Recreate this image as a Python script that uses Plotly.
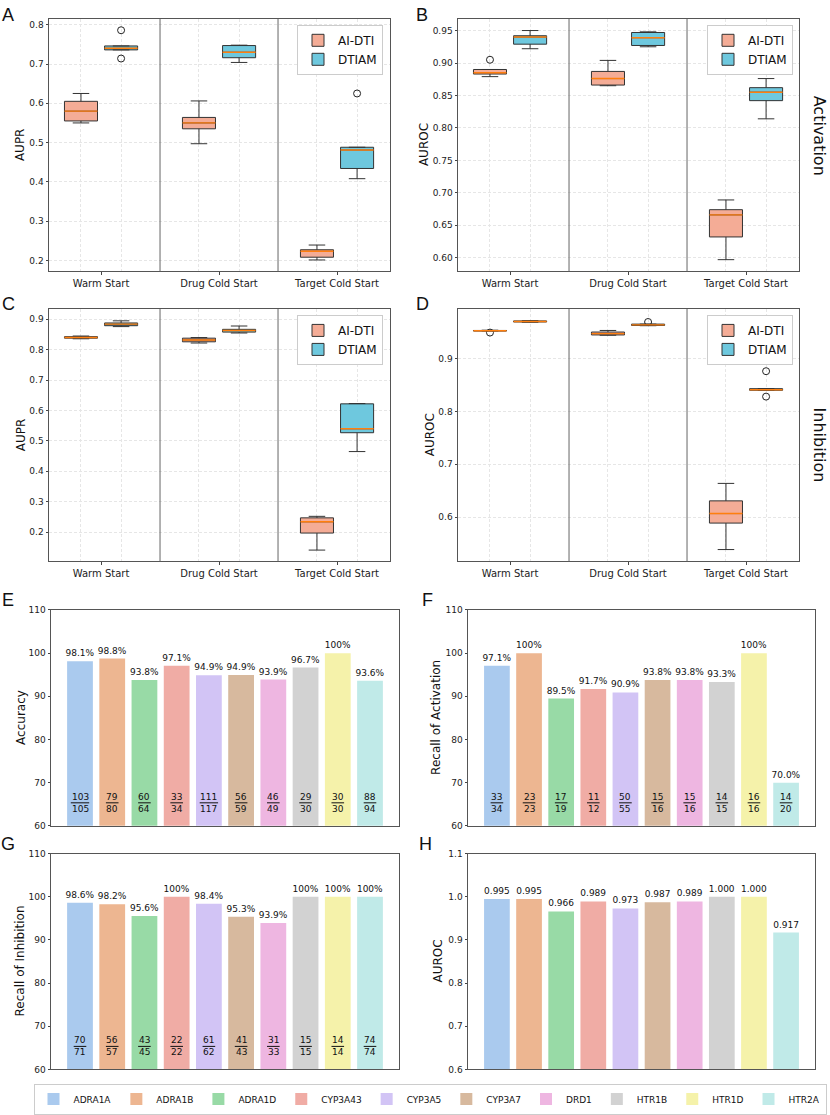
import numpy as np
import plotly.graph_objects as go

W, H = 830, 1115

# ---------------- data ----------------
scenarios = ["Warm Start", "Drug Cold Start", "Target Cold Start"]
methods = ["AI-DTI", "DTIAM"]

# five-fold results per scenario (A: activation AUPR, B: activation AUROC, C: inhibition AUPR, D: inhibition AUROC)
aupr_act_aidti = [[0.550, 0.555, 0.580, 0.605, 0.625], [0.497, 0.535, 0.550, 0.564, 0.606], [0.201, 0.208, 0.223, 0.227, 0.239]]
aupr_act_dtiam = [[0.714, 0.736, 0.740, 0.746, 0.786], [0.704, 0.716, 0.730, 0.747, 0.748], [0.408, 0.434, 0.481, 0.488, 0.625]]
auroc_act_aidti = [[0.879, 0.883, 0.885, 0.890, 0.905], [0.865, 0.866, 0.876, 0.887, 0.904], [0.597, 0.632, 0.666, 0.674, 0.689]]
auroc_act_dtiam = [[0.922, 0.929, 0.940, 0.942, 0.950], [0.925, 0.927, 0.939, 0.947, 0.948], [0.814, 0.842, 0.855, 0.862, 0.876]]
aupr_inh_aidti = [[0.836, 0.838, 0.840, 0.843, 0.845], [0.822, 0.826, 0.832, 0.838, 0.840], [0.141, 0.197, 0.234, 0.247, 0.252]]
aupr_inh_dtiam = [[0.876, 0.879, 0.884, 0.888, 0.895], [0.855, 0.858, 0.863, 0.867, 0.878], [0.465, 0.527, 0.540, 0.622, 0.623]]
auroc_inh_aidti = [[0.949, 0.952, 0.9525, 0.953, 0.9535], [0.944, 0.9445, 0.947, 0.950, 0.953], [0.539, 0.589, 0.607, 0.631, 0.664]]
auroc_inh_dtiam = [[0.9685, 0.969, 0.970, 0.971, 0.9715], [0.962, 0.9625, 0.9635, 0.965, 0.969], [0.828, 0.840, 0.841, 0.843, 0.876]]

targets = ["ADRA1A", "ADRA1B", "ADRA1D", "CYP3A43", "CYP3A5", "CYP3A7", "DRD1", "HTR1B", "HTR1D", "HTR2A"]
acc_num = [103, 79, 60, 33, 111, 56, 46, 29, 30, 88]
acc_den = [105, 80, 64, 34, 117, 59, 49, 30, 30, 94]
act_num = [33, 23, 17, 11, 50, 15, 15, 14, 16, 14]
act_den = [34, 23, 19, 12, 55, 16, 16, 15, 16, 20]
inh_num = [70, 56, 43, 22, 61, 41, 31, 15, 14, 74]
inh_den = [71, 57, 45, 22, 62, 43, 33, 15, 14, 74]
auroc_targets = [0.995, 0.995, 0.966, 0.989, 0.973, 0.987, 0.989, 1.000, 1.000, 0.917]

# ---------------- styles ----------------
box_fill = {"AI-DTI": "#F4AC96", "DTIAM": "#6EC8DE"}
bar_colors = ["#AACAEE", "#EDB691", "#98DAA6", "#F0ACA5", "#D2C4F5",
              "#D7B99E", "#EEB6E1", "#D2D2D2", "#F5F2AA", "#C0EAE8"]
FONT = "DejaVu Sans"
AX_LINE = "#555555"
GRID = "#E6E6E6"
DASH = "3px,2px"


def fx(p):
    return p / W


def fy(p):
    return 1 - p / H


# panel: plot-area pixel box and y-title distance from the left axis
panels = {
    "A": dict(x=(49, 390), y=(14, 269), t=29),
    "B": dict(x=(458, 799), y=(14, 269), t=34),
    "C": dict(x=(49, 390), y=(307, 562), t=28),
    "D": dict(x=(458, 799), y=(307, 562), t=28),
    "E": dict(x=(51, 399), y=(611, 829), t=30),
    "F": dict(x=(468, 815), y=(611, 829), t=32),
    "G": dict(x=(51, 399), y=(857, 1075), t=31),
    "H": dict(x=(468, 815), y=(857, 1075), t=30),
}

fig = go.Figure()
layout = dict(width=W, height=H, margin=dict(l=0, r=0, t=0, b=0),
              paper_bgcolor="white", plot_bgcolor="white",
              font=dict(family=FONT, size=10, color="#222"),
              showlegend=True)
annotations = []
shapes = []

box_panels = [
    ("A", 1, "AUPR", aupr_act_aidti, aupr_act_dtiam, [0.172, 0.815], [0.2, 0.3, 0.4, 0.5, 0.6, 0.7, 0.8], ".1f", "legend2", (383, 20)),
    ("B", 2, "AUROC", auroc_act_aidti, auroc_act_dtiam, [0.579, 0.968], [0.60, 0.65, 0.70, 0.75, 0.80, 0.85, 0.90, 0.95], ".2f", "legend3", (793, 20)),
    ("C", 3, "AUPR", aupr_inh_aidti, aupr_inh_dtiam, [0.1036, 0.934], [0.2, 0.3, 0.4, 0.5, 0.6, 0.7, 0.8, 0.9], ".1f", "legend4", (383, 313)),
    ("D", 4, "AUROC", auroc_inh_aidti, auroc_inh_dtiam, [0.5165, 0.9936], [0.6, 0.7, 0.8, 0.9], ".1f", "legend5", (793, 313)),
]

offset = 0.17
bw = 0.28
for key, n, ytitle, d_ai, d_dt, yr, ytv, yfmt, leg, legpos in box_panels:
    xa = "x" if n == 1 else f"x{n}"
    ya = "y" if n == 1 else f"y{n}"
    p = panels[key]
    positions = []
    for m, data, sgn in (("AI-DTI", d_ai, -1), ("DTIAM", d_dt, 1)):
        xs, ys = [], []
        mx, my = [], []
        for ci, vals in enumerate(data):
            pos = ci + sgn * offset
            positions.append(pos)
            xs += [pos] * len(vals)
            ys += list(vals)
            med = float(np.median(vals))
            mx += [pos - bw / 2, pos + bw / 2, None]
            my += [med, med, None]
        fig.add_trace(go.Box(
            x=xs, y=ys, name=m, xaxis=xa, yaxis=ya, legend=leg,
            quartilemethod="inclusive",
            width=bw, fillcolor=box_fill[m], line=dict(color="#333333", width=1),
            whiskerwidth=0.5, boxpoints="outliers", jitter=0, pointpos=0,
            marker=dict(symbol="circle-open", size=7, color="#222222", line=dict(width=1)),
            hoverinfo="y", showlegend=True))
        fig.add_trace(go.Scatter(
            x=mx, y=my, mode="lines", xaxis=xa, yaxis=ya,
            line=dict(color="#FF7F0E", width=1.4), showlegend=False, hoverinfo="skip"))
    xkey = "xaxis" if n == 1 else f"xaxis{n}"
    ykey = "yaxis" if n == 1 else f"yaxis{n}"
    layout[xkey] = dict(domain=[fx(p["x"][0]), fx(p["x"][1])], anchor=ya,
                        range=[-0.441, 2.449], tickvals=[0, 1, 2], ticktext=scenarios,
                        tickfont=dict(size=10), ticks="outside", ticklen=3,
                        showgrid=False, zeroline=False, showline=True, mirror=True,
                        linecolor=AX_LINE, linewidth=1,
                        minor=dict(tickvals=sorted(positions), showgrid=True, gridcolor=GRID,
                                   griddash=DASH, gridwidth=0.8, ticks=""))
    layout[ykey] = dict(domain=[fy(p["y"][1]), fy(p["y"][0])], anchor=xa,
                        range=yr, tickvals=ytv, tickformat=yfmt, tickfont=dict(size=9),
                        ticks="outside", ticklen=2.5, showgrid=True, gridcolor=GRID,
                        griddash=DASH, gridwidth=0.8, zeroline=False, showline=True,
                        mirror=True, linecolor=AX_LINE, linewidth=1)
    for sep in (0.5, 1.5):
        shapes.append(dict(type="line", xref=xa, yref=f"{ya} domain", x0=sep, x1=sep, y0=0, y1=1,
                           line=dict(color="#666666", width=1)))
    layout[leg] = dict(x=fx(legpos[0]), y=fy(legpos[1]), xanchor="right", yanchor="top",
                       bgcolor="white", bordercolor="#CCCCCC", borderwidth=1,
                       font=dict(family=FONT, size=12, color="#111"), tracegroupgap=0)
    annotations.append(dict(x=fx(p["x"][0] - p["t"]), y=fy((p["y"][0] + p["y"][1]) / 2),
                            xref="paper", yref="paper", xanchor="center", yanchor="middle",
                            text=ytitle, showarrow=False,
                            textangle=-90, font=dict(size=12, color="#111")))


def pct_label(v):
    return "100%" if round(v, 6) == 100 else f"{v:.1f}%"


bar_panels = [
    ("E", 5, "Accuracy", [a / b * 100 for a, b in zip(acc_num, acc_den)], acc_num, acc_den, [60, 110], 10),
    ("F", 6, "Recall of Activation", [a / b * 100 for a, b in zip(act_num, act_den)], act_num, act_den, [60, 110], 10),
    ("G", 7, "Recall of Inhibition", [a / b * 100 for a, b in zip(inh_num, inh_den)], inh_num, inh_den, [60, 110], 10),
    ("H", 8, "AUROC", auroc_targets, None, None, [0.6, 1.1], 0.1),
]

for key, n, ytitle, vals, nums, dens, yr, dt in bar_panels:
    xa, ya = f"x{n}", f"y{n}"
    p = panels[key]
    for i, t in enumerate(targets):
        lab = pct_label(vals[i]) if nums is not None else f"{vals[i]:.3f}"
        fig.add_trace(go.Bar(
            x=[i], y=[vals[i]], name=t, legendgroup=t, legend="legend",
            xaxis=xa, yaxis=ya, width=0.8, marker=dict(color=bar_colors[i], line=dict(width=0)),
            text=[lab], textposition="outside", textfont=dict(size=9, color="#111"),
            cliponaxis=False, constraintext="none", showlegend=(key == "E")))
        if nums is not None:
            annotations.append(dict(x=i, y=yr[0], xref=xa, yref=ya, xanchor="center", yanchor="middle",
                                    yshift=23, text=f"{nums[i]}<br>{dens[i]}", showarrow=False,
                                    font=dict(size=9, color="#111")))
            hw = 2.9 * max(len(str(nums[i])), len(str(dens[i]))) + 0.5
            shapes.append(dict(type="line", xref=xa, yref=ya, xsizemode="pixel", xanchor=i,
                               x0=-hw, x1=hw, ysizemode="pixel", yanchor=yr[0], y0=23, y1=23,
                               line=dict(color="#111", width=1)))
    layout[f"xaxis{n}"] = dict(domain=[fx(p["x"][0]), fx(p["x"][1])], anchor=ya,
                               range=[-0.9, 9.9], showticklabels=False, ticks="",
                               showgrid=False, zeroline=False, showline=True, mirror=True,
                               linecolor=AX_LINE, linewidth=1)
    layout[f"yaxis{n}"] = dict(domain=[fy(p["y"][1]), fy(p["y"][0])], anchor=xa,
                               range=yr, dtick=dt, tick0=yr[0], tickfont=dict(size=9),
                               tickformat=".1f" if key == "H" else "d",
                               ticks="outside", ticklen=2.5, showgrid=False, zeroline=False,
                               showline=True, mirror=True, linecolor=AX_LINE, linewidth=1)
    annotations.append(dict(x=fx(p["x"][0] - p["t"]), y=fy((p["y"][0] + p["y"][1]) / 2),
                            xref="paper", yref="paper", xanchor="center", yanchor="middle",
                            text=ytitle, showarrow=False,
                            textangle=-90, font=dict(size=12, color="#111")))

layout["legend"] = dict(orientation="h", x=fx(430), xanchor="center", y=fy(1105), yanchor="middle",
                        bgcolor="white", bordercolor="#CCCCCC", borderwidth=1,
                        font=dict(family=FONT, size=9, color="#111"))

# panel letters
letters = {"A": (8, 10), "B": (422, 10), "C": (8, 302), "D": (422, 302),
           "E": (8, 601), "F": (427, 601), "G": (8, 847), "H": (425, 847)}
for L, (lx, ly) in letters.items():
    annotations.append(dict(x=fx(lx), y=fy(ly), xref="paper", yref="paper", text=L,
                            xanchor="center", yanchor="middle", showarrow=False,
                            font=dict(family="Liberation Sans", size=18, color="#111")))

# row labels
annotations.append(dict(x=fx(819), y=fy(132), xref="paper", yref="paper", text="Activation",
                        xanchor="center", yanchor="middle",
                        showarrow=False, textangle=90, font=dict(size=16, color="#111")))
annotations.append(dict(x=fx(819), y=fy(444), xref="paper", yref="paper", text="Inhibition",
                        xanchor="center", yanchor="middle",
                        showarrow=False, textangle=90, font=dict(size=16, color="#111")))

layout["annotations"] = annotations
layout["shapes"] = shapes
layout["boxmode"] = "overlay"
layout["barmode"] = "overlay"
fig.update_layout(**layout)
fig.write_html("out.html", config={"displayModeBar": False},
               post_script="document.body.style.margin='0px';document.body.style.overflow='hidden';")
